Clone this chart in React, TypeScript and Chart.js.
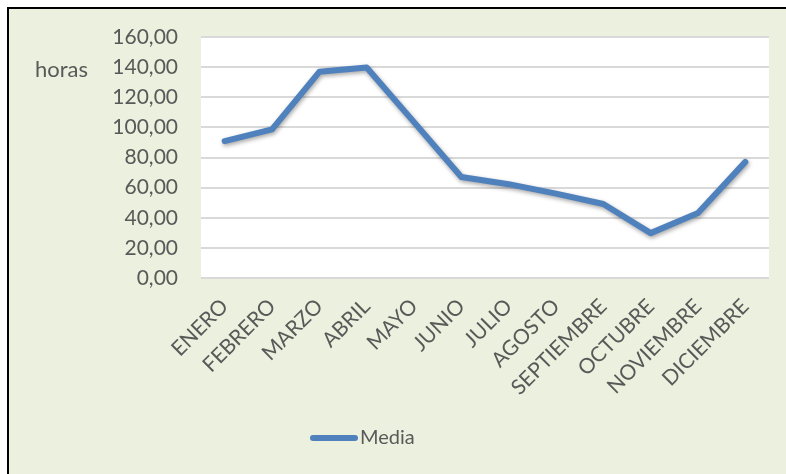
import React, { useEffect, useRef } from "react";
import { Chart, registerables } from "chart.js";

Chart.register(...registerables);

const months = [
  "ENERO", "FEBRERO", "MARZO", "ABRIL", "MAYO", "JUNIO",
  "JULIO", "AGOSTO", "SEPTIEMBRE", "OCTUBRE", "NOVIEMBRE", "DICIEMBRE",
];
const mediaHoras = [90.9, 98.7, 136.9, 139.8, 103.5, 67.0, 62.3, 56.0, 49.1, 29.8, 43.1, 77.1];
const seriesLabel = "Media";
const axisTitle = "horas";

const FONT = "Lato, 'Open Sans', sans-serif";
const TEXT = "#595959";
const BLUE = "#4F81BD";

// white plot area behind the grid
const plotBackground = {
  id: "plotBackground",
  beforeDraw(chart: any) {
    const { ctx, chartArea } = chart;
    ctx.save();
    ctx.fillStyle = "#FFFFFF";
    ctx.fillRect(chartArea.left, chartArea.top, chartArea.right - chartArea.left, chartArea.bottom - chartArea.top);
    ctx.restore();
  },
};

// soft drop shadow under the line
const lineShadow = {
  id: "lineShadow",
  beforeDatasetDraw(chart: any) {
    const ctx = chart.ctx;
    ctx.save();
    ctx.shadowColor = "rgba(0,0,0,0.35)";
    ctx.shadowBlur = 4;
    ctx.shadowOffsetX = 1;
    ctx.shadowOffsetY = 2;
  },
  afterDatasetDraw(chart: any) {
    chart.ctx.restore();
  },
};

// "horas" caption next to the value axis, and the bottom legend
const captions = {
  id: "captions",
  afterDraw(chart: any) {
    const { ctx } = chart;
    const y = chart.scales.y;
    ctx.save();
    ctx.fillStyle = TEXT;
    ctx.font = `22px ${FONT}`;
    ctx.textAlign = "left";
    ctx.textBaseline = "middle";
    ctx.fillText(axisTitle, 26, y.getPixelForValue(140) + 3);

    // legend
    const ly = 429;
    ctx.strokeStyle = BLUE;
    ctx.lineWidth = 6;
    ctx.lineCap = "round";
    ctx.beginPath();
    ctx.moveTo(304, ly);
    ctx.lineTo(346, ly);
    ctx.stroke();
    ctx.font = `20px ${FONT}`;
    ctx.fillText(chart.data.datasets[0].label, 351, ly);
    ctx.restore();
  },
};

export default function App() {
  const ref = useRef<HTMLCanvasElement | null>(null);

  useEffect(() => {
    if (!ref.current) return;
    const chart = new Chart(ref.current, {
      type: "line",
      data: {
        labels: months,
        datasets: [
          {
            label: seriesLabel,
            data: mediaHoras,
            borderColor: BLUE,
            backgroundColor: BLUE,
            borderWidth: 6,
            pointRadius: 0,
            borderCapStyle: "round",
            borderJoinStyle: "round",
            tension: 0,
          },
        ],
      },
      plugins: [plotBackground, lineShadow, captions],
      options: {
        animation: false,
        responsive: false,
        layout: { padding: { left: 0, right: 17, top: 28, bottom: 0 } },
        plugins: {
          legend: { display: false },
          tooltip: { enabled: false },
        },
        scales: {
          x: {
            offset: true,
            grid: { display: false, drawTicks: false },
            border: { display: false },
            ticks: {
              color: TEXT,
              font: { family: FONT, size: 21 },
              minRotation: 45,
              maxRotation: 45,
              autoSkip: false,
              padding: 16,
            },
            afterFit(scale: any) {
              scale.height = 196;
            },
          },
          y: {
            min: 0,
            max: 160,
            grid: {
              color: "#D9D9D9",
              lineWidth: 2,
              drawTicks: true,
              tickLength: 20,
              tickColor: "rgba(0,0,0,0)",
            },
            border: { display: false },
            ticks: {
              stepSize: 20,
              color: TEXT,
              padding: 3,
              font: { family: FONT, size: 21 },
              callback: (v: any) => Number(v).toFixed(2).replace(".", ","),
            },
            afterFit(scale: any) {
              scale.width = 192;
            },
          },
        },
      },
    });
    return () => chart.destroy();
  }, []);

  return (
    <div
      style={{
        position: "fixed",
        left: 7,
        top: 7,
        borderTop: "2px solid #000",
        borderLeft: "2px solid #000",
        background: "#EBF1DE",
        width: 777,
        height: 465,
      }}
    >
      <canvas ref={ref} width={777} height={465} style={{ display: "block" }} />
    </div>
  );
}
